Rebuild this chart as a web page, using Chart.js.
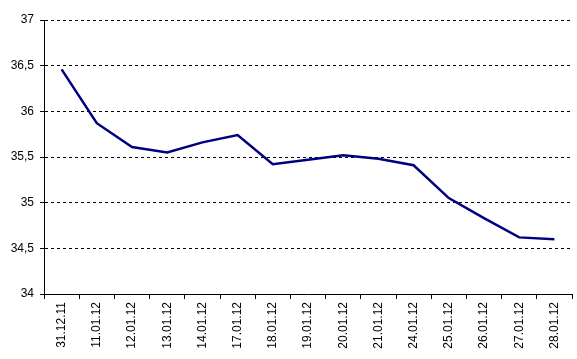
<!DOCTYPE html>
<html lang="ru">
<head>
  <meta charset="UTF-8" />
  <title>Chart</title>
  <script src="https://cdn.jsdelivr.net/npm/chart.js"></script>
  <style>
    body { margin: 0; background: #fff; }
  </style>
</head>
<body>
  <canvas id="chart" width="577" height="359"></canvas>
  <script>
    const dates = ['31.12.11', '11.01.12', '12.01.12', '13.01.12', '14.01.12', '17.01.12', '18.01.12',
      '19.01.12', '20.01.12', '21.01.12', '24.01.12', '25.01.12', '26.01.12', '27.01.12', '28.01.12'];
    const values = [36.46, 35.87, 35.61, 35.55, 35.66, 35.74, 35.42, 35.47, 35.52, 35.48, 35.41, 35.05, 34.83, 34.62, 34.60];
    const yMin = 34;
    const yMax = 37;
    const yStep = 0.5;

    const ctx = document.getElementById('chart').getContext('2d');
    const font = { family: 'Liberation Sans, Arial, sans-serif', size: 12 };

    new Chart(ctx, {
      type: 'line',
      data: {
        labels: dates,
        datasets: [{
          data: values,
          borderColor: '#000080',
          borderWidth: 2.5,
          tension: 0,
          pointRadius: 0,
          fill: false
        }]
      },
      options: {
        responsive: false,
        animation: false,
        layout: { padding: { top: 20, right: 5, left: 0, bottom: 0 } },
        plugins: { legend: { display: false }, tooltip: { enabled: false } },
        scales: {
          x: {
            offset: true,
            grid: { offset: true, drawOnChartArea: false, drawTicks: true, tickLength: 5, color: '#000' },
            border: { color: '#000', width: 1 },
            ticks: { color: '#000', font, minRotation: 90, maxRotation: 90, autoSkip: false, padding: 3 },
            afterFit: s => { s.height = 65; }
          },
          y: {
            min: yMin,
            max: yMax,
            grid: { color: '#000', tickLength: 4, tickColor: '#000' },
            border: { color: '#000', width: 1, dash: [3, 3] },
            ticks: {
              stepSize: yStep,
              color: '#000',
              font,
              padding: 6,
              callback: v => String(v).replace('.', ',')
            },
            afterFit: s => { s.width = 44; }
          }
        }
      }
    });
  </script>
</body>
</html>
